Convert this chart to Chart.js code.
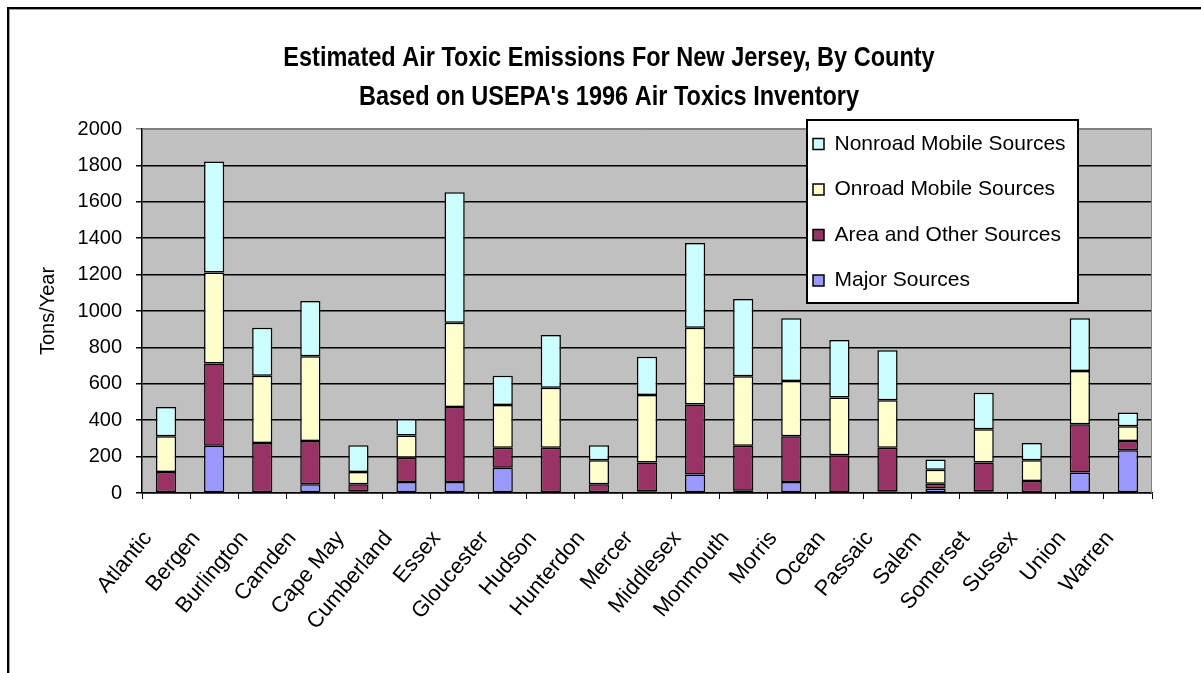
<!DOCTYPE html>
<html>
<head>
<meta charset="utf-8">
<title>Estimated Air Toxic Emissions For New Jersey, By County</title>
<script src="https://cdn.jsdelivr.net/npm/chart.js@4.4.1/dist/chart.umd.min.js"></script>
<style>
  html, body { margin: 0; padding: 0; background: #ffffff; }
  #wrap { position: relative; width: 1201px; height: 673px; }
  canvas { display: block; }
</style>
</head>
<body>
<div id="wrap"><canvas id="chart" width="1201" height="673"></canvas></div>
<script>
// Counties along the category axis
const counties = ['Atlantic', 'Bergen', 'Burlington', 'Camden', 'Cape May', 'Cumberland', 'Essex',
  'Gloucester', 'Hudson', 'Hunterdon', 'Mercer', 'Middlesex', 'Monmouth', 'Morris', 'Ocean',
  'Passaic', 'Salem', 'Somerset', 'Sussex', 'Union', 'Warren'];

// Emissions by source type, tons per year
const majorSources   = [0, 259, 0, 48, 10, 61, 61, 139, 0, 0, 10, 101, 12, 61, 3, 10, 25, 10, 0, 112, 235];
const areaSources    = [116, 453, 275, 238, 38, 132, 412, 109, 248, 48, 157, 385, 247, 251, 204, 238, 26, 157, 66, 266, 51];
const onroadSources  = [196, 499, 369, 466, 68, 123, 463, 235, 330, 132, 371, 422, 383, 303, 318, 262, 77, 183, 114, 292, 81];
const nonroadSources = [161, 611, 264, 303, 146, 90, 716, 161, 290, 82, 211, 465, 424, 345, 315, 275, 56, 201, 95, 290, 75];

// Value axis ticks
const yTicks = [0, 200, 400, 600, 800, 1000, 1200, 1400, 1600, 1800, 2000];

const titleLines = ['Estimated Air Toxic Emissions For New Jersey, By County',
                    "Based on USEPA's 1996 Air Toxics Inventory"];

const FONT = "'Liberation Sans', Arial, Helvetica, sans-serif";
const LEGEND_BOX = { left: 807, top: 120, right: 1078, bottom: 303 };
const TITLE_SQUEEZE = 0.84;   // condensed look for the heading
const TITLE_CENTER_X = 609;   // heading is centred over the whole page

Chart.defaults.color = '#000000';
Chart.defaults.font.family = FONT;

// Grey plot background, framed page and boxed legend drawn above the bars
const decorations = {
  id: 'decorations',
  afterInit(chart) {
    // draw the heading horizontally condensed around the page centre
    const t = chart.titleBlock;
    if (!t) return;
    const baseDraw = t.draw.bind(t);
    t.draw = function () {
      const ctx = chart.ctx;
      const cx = (t.left + t.right) / 2;
      ctx.save();
      ctx.translate(TITLE_CENTER_X, 0);
      ctx.scale(TITLE_SQUEEZE, 1);
      ctx.translate(-cx, 0);
      baseDraw();
      ctx.restore();
    };
  },
  beforeDraw(chart) {
    const { ctx, chartArea: a } = chart;
    ctx.save();
    ctx.fillStyle = '#c0c0c0';
    ctx.fillRect(a.left, a.top, a.right - a.left, a.bottom - a.top);
    ctx.restore();
  },
  afterLayout(chart) {
    const lg = chart.legend;
    if (!lg) return;
    const pad = lg.options.labels.padding;
    const size = lg.options.labels.font.size;
    lg.left = 813 - pad;
    lg.top = 144 - size / 2 - pad;
    lg.width = LEGEND_BOX.right - lg.left;
    lg.height = 400;
    lg.right = lg.left + lg.width;
    lg.bottom = lg.top + lg.height;
  },
  afterDatasetsDraw(chart) {
    const { ctx, chartArea: a } = chart;
    ctx.save();
    // plot area edge on top and right
    ctx.strokeStyle = '#808080';
    ctx.lineWidth = 1;
    ctx.beginPath();
    ctx.moveTo(a.left, a.top + 0.5);
    ctx.lineTo(a.right - 0.5, a.top + 0.5);
    ctx.lineTo(a.right - 0.5, a.bottom);
    ctx.stroke();
    // legend panel
    const b = LEGEND_BOX;
    ctx.fillStyle = '#ffffff';
    ctx.fillRect(b.left, b.top, b.right - b.left, b.bottom - b.top);
    ctx.strokeStyle = '#000000';
    ctx.lineWidth = 2;
    ctx.strokeRect(b.left, b.top, b.right - b.left, b.bottom - b.top);
    ctx.restore();
    if (chart.legend) chart.legend.draw();
  },
  afterDraw(chart) {
    const { ctx, width, height } = chart;
    ctx.save();
    ctx.fillStyle = '#000000';
    ctx.fillRect(7, 7, width - 7, 2);
    ctx.fillRect(7, 7, 2, height - 7);
    ctx.fillStyle = '#a0a0a0';
    ctx.fillRect(9, 9, width - 9, 1);
    ctx.fillRect(9, 9, 1, height - 9);
    ctx.restore();
  }
};

const seg = (label, data, color) => ({
  label, data,
  backgroundColor: color,
  borderColor: '#000000',
  borderWidth: 1.5,
  borderSkipped: false,
  barPercentage: 0.42,
  categoryPercentage: 1.0,
  stack: 'total'
});

new Chart(document.getElementById('chart'), {
  type: 'bar',
  data: {
    labels: counties,
    datasets: [
      seg('Major Sources', majorSources, '#9999ff'),
      seg('Area and Other Sources', areaSources, '#993366'),
      seg('Onroad Mobile Sources', onroadSources, '#ffffcc'),
      seg('Nonroad Mobile Sources', nonroadSources, '#ccffff')
    ]
  },
  options: {
    responsive: false,
    devicePixelRatio: 1,
    animation: false,
    layout: { padding: { left: 0, right: 49, top: 0, bottom: 0 } },
    plugins: {
      title: {
        display: true,
        text: titleLines,
        color: '#000000',
        font: { family: FONT, size: 28, weight: 'bold', lineHeight: '39px' },
        padding: { top: 39, bottom: 12 }
      },
      legend: {
        display: true,
        position: 'chartArea',
        align: 'start',
        reverse: true,
        labels: {
          color: '#000000',
          font: { family: FONT, size: 21 },
          boxWidth: 11,
          boxHeight: 11,
          padding: 24.5
        }
      },
      tooltip: { enabled: false }
    },
    scales: {
      x: {
        stacked: true,
        offset: true,
        grid: { offset: true, drawOnChartArea: false, drawTicks: true, tickLength: 6, color: '#000000', lineWidth: 1 },
        border: { display: true, color: '#000000', width: 1.5 },
        ticks: {
          autoSkip: false,
          minRotation: 50,
          maxRotation: 50,
          padding: 27,
          labelOffset: -18,
          font: { family: FONT, size: 22 },
          color: '#000000'
        },
        afterFit(scale) { scale.height = 180; }
      },
      y: {
        stacked: true,
        min: 0,
        max: 2000,
        afterBuildTicks(scale) { scale.ticks = yTicks.map(v => ({ value: v })); },
        grid: {
          color: ctx => (ctx.tick && ctx.tick.value === 2000 ? '#808080' : '#000000'),
          lineWidth: 1.5,
          drawTicks: true,
          tickLength: 6
        },
        border: { display: true, color: '#000000', width: 1.5 },
        ticks: {
          padding: 14,
          font: { family: FONT, size: 20 },
          color: '#000000',
          callback: v => String(v)
        },
        title: {
          display: true,
          text: 'Tons/Year',
          color: '#000000',
          font: { family: FONT, size: 20, lineHeight: 1.2 },
          padding: { top: 36, bottom: 0 }
        },
        afterFit(scale) { scale.width = 142; }
      }
    }
  },
  plugins: [decorations]
});
</script>
</body>
</html>
